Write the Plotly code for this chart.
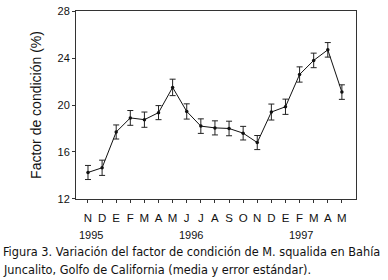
import plotly.graph_objects as go

months = ["N", "D", "E", "F", "M", "A", "M", "J", "J", "A", "S", "O", "N", "D", "E", "F", "M", "A", "M"]
values = [14.25, 14.65, 17.7, 18.9, 18.75, 19.35, 21.5, 19.45, 18.2, 18.05, 18.0, 17.6, 16.8, 19.4, 19.85, 22.6, 23.8, 24.7, 21.1]
errors = [0.6, 0.65, 0.6, 0.63, 0.65, 0.6, 0.7, 0.65, 0.62, 0.6, 0.62, 0.58, 0.6, 0.68, 0.65, 0.65, 0.62, 0.62, 0.62]
years = ["1995", "1996", "1997"]
year_pos = [0.2, 7.3, 15.1]
yticks = [12, 16, 20, 24, 28]

x = list(range(len(months)))

fig = go.Figure()
fig.add_trace(go.Scatter(
    x=x, y=values, mode="lines+markers",
    line=dict(color="#111111", width=1),
    marker=dict(color="#111111", size=3.5),
    error_y=dict(type="data", array=errors, visible=True, color="#222222", thickness=1, width=3),
    showlegend=False,
))

font_main = "Liberation Sans, Arial, sans-serif"

fig.update_layout(
    width=388, height=280,
    margin=dict(l=76, r=32, t=5, b=81),
    paper_bgcolor="white", plot_bgcolor="white",
    font=dict(family=font_main, color="#111111"),
    xaxis=dict(
        range=[-0.85, 19], tickvals=x, ticktext=months,
        showline=True, linecolor="#333333", linewidth=1, mirror=True,
        ticks="outside", ticklen=3, tickcolor="#333333",
        showgrid=False, zeroline=False, ticklabelstandoff=5,
        tickfont=dict(size=11.5, family=font_main, color="#111111"),
    ),
    yaxis=dict(
        range=[11.99, 28.01], tickvals=yticks, ticklabeloverflow="allow",
        showline=True, linecolor="#333333", linewidth=1, mirror=True,
        ticks="outside", ticklen=3, tickcolor="#333333",
        showgrid=False, zeroline=False,
        tickfont=dict(size=11, family=font_main, color="#111111"),
        title=dict(text="Factor de condición (%)", font=dict(size=14, family=font_main, color="#111111"), standoff=12),
    ),
)

for yr, pos in zip(years, year_pos):
    fig.add_annotation(x=pos, y=(199 - 236) / 194, xref="x", yref="paper",
                       text=yr, showarrow=False, xanchor="center", yanchor="middle",
                       font=dict(size=11, family=font_main, color="#111111"))

cap_font = "Liberation Sans Narrow, DejaVu Sans Condensed, Arial Narrow, sans-serif"
fig.add_annotation(x=-75 / 280, y=(199 - 253) / 194, xref="paper", yref="paper",
                   text="Figura 3. Variación del factor de condición de M. squalida en Bahía",
                   showarrow=False, xanchor="left", yanchor="middle",
                   font=dict(size=12.6, family=cap_font, color="#111111"))
fig.add_annotation(x=-75 / 280, y=(199 - 272) / 194, xref="paper", yref="paper",
                   text="Juncalito, Golfo de California (media y error estándar).",
                   showarrow=False, xanchor="left", yanchor="middle",
                   font=dict(size=12.6, family=cap_font, color="#111111"))

fig.write_html("out.html", config={"displayModeBar": False},
               post_script="document.body.style.margin='0px';")
